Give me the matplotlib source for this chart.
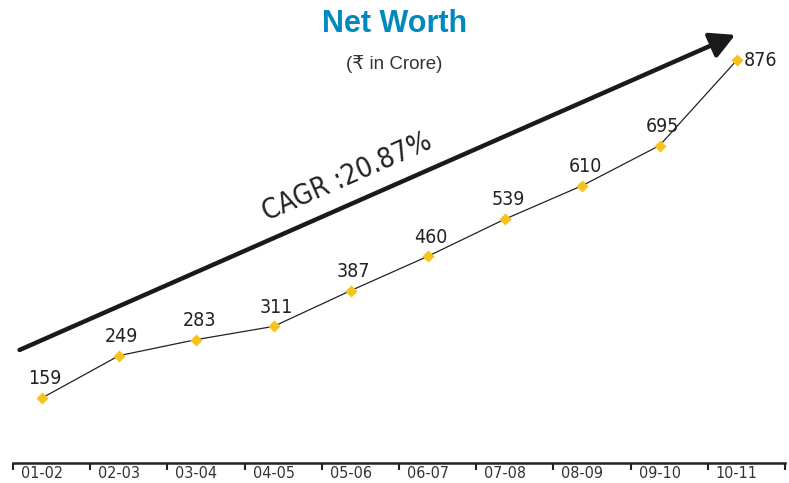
import numpy as np
import matplotlib.pyplot as plt

# dados
anos = ['01-02', '02-03', '03-04', '04-05', '05-06', '06-07', '07-08', '08-09', '09-10', '10-11']
net_worth = [159, 249, 283, 311, 387, 460, 539, 610, 695, 876]
cagr = '20.87%'

fonte = ['DejaVu Sans']
esticar = 'condensed'

fig = plt.figure(figsize=(7.89, 4.83), dpi=100)
ax = fig.add_axes([13 / 789, 20 / 483, 772 / 789, 463 / 483])

x = np.arange(len(anos))
ax.plot(x, net_worth, color='#222222', lw=0.9, zorder=2)
ax.scatter(x, net_worth, marker='D', s=38, color='#F7C21B', zorder=3, linewidths=0)

# rotulos dos pontos
for i, v in enumerate(net_worth):
    if i == len(net_worth) - 1:
        ax.annotate(str(v), (i, v), xytext=(5, 0), textcoords='offset points',
                    ha='left', va='center', fontsize=14, family=fonte, stretch=esticar, color='#222222')
    else:
        ax.annotate(str(v), (i, v), xytext=(2, 7), textcoords='offset points',
                    ha='center', va='bottom', fontsize=14, family=fonte, stretch=esticar, color='#222222')

# seta de crescimento
ax.annotate('', xy=(8.98, 930), xytext=(-0.29, 261),
            arrowprops=dict(arrowstyle='-|>,head_length=1.5,head_width=0.8',
                            lw=3.2, color='#1a1a1a', shrinkA=0, shrinkB=0))
ax.text(3.95, 628, 'CAGR :' + cagr, rotation=23.8, rotation_mode='anchor',
        ha='center', va='center', fontsize=20, family=fonte, stretch=esticar, color='#222222')

ax.set_xlim(-0.375, 9.625)
ax.set_ylim(21, 1004)

# eixo x com marcas entre as categorias
ax.set_xticks(np.arange(-0.375, 9.7, 1.0))
ax.set_xticklabels([])
ax.set_xticks(x, minor=True)
ax.set_xticklabels(anos, minor=True, fontsize=11.5, family=fonte, stretch=esticar, color='#333333')
ax.tick_params(axis='x', which='major', length=5, width=1.5, color='#222222', direction='out')
ax.tick_params(axis='x', which='minor', length=0, pad=2.5)
ax.set_yticks([])
for s in ['top', 'right', 'left']:
    ax.spines[s].set_visible(False)
ax.spines['bottom'].set_linewidth(1.8)
ax.spines['bottom'].set_color('#222222')

fig.text(0.5, 1 - 24 / 483, 'Net Worth', ha='center', va='center', fontsize=22,
         fontweight='bold', color='#0089BF', family=['Liberation Sans', 'DejaVu Sans'])
fig.text(0.5, 1 - 64 / 483, '(₹ in Crore)', ha='center', va='center', fontsize=13.5,
         color='#333333', family=['Liberation Sans', 'DejaVu Sans'])

plt.savefig('out.png', dpi=100)
